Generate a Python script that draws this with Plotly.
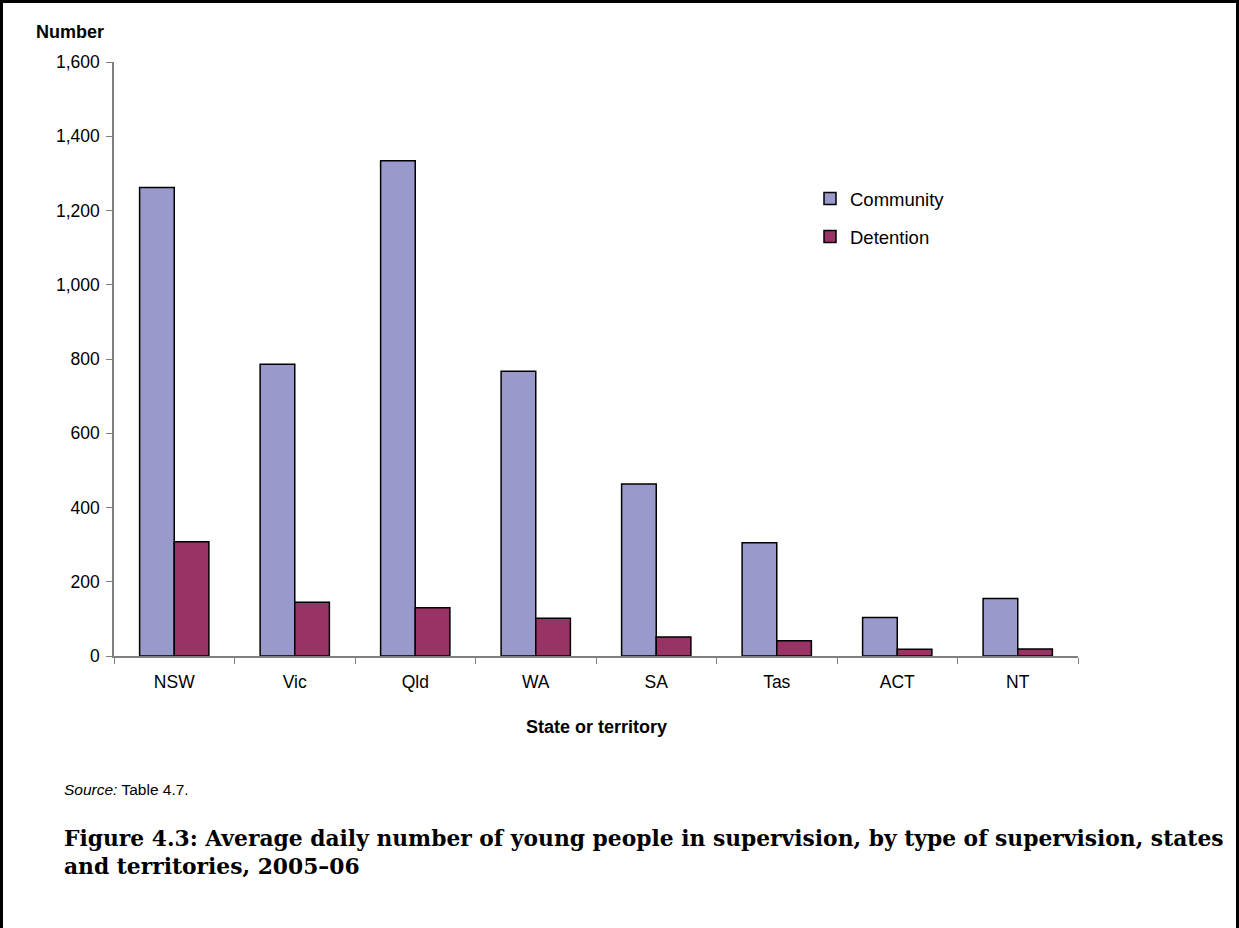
import plotly.graph_objects as go

# Average daily number of young people under supervision, 2005-06
states = ["NSW", "Vic", "Qld", "WA", "SA", "Tas", "ACT", "NT"]
community = [1262, 786, 1334, 767, 463, 305, 104, 155]
detention = [308, 145, 130, 102, 51, 41, 18, 19]

y_ticks = [0, 200, 400, 600, 800, 1000, 1200, 1400, 1600]

W, H = 1239, 928
L, R, T, B = 114, 1078, 62, 656  # plot area in pixels
pw, ph = R - L, B - T


def px(x):
    return (x - L) / pw


def py(y):
    return (B - y) / ph


sans = "Liberation Sans, Arial, sans-serif"
serif = "DejaVu Serif, Book Antiqua, serif"

fig = go.Figure()
fig.add_trace(go.Bar(
    x=states, y=community, name="Community",
    marker=dict(color="#9999CC", line=dict(color="#000000", width=1.5)),
    legendgroup="c",
))
fig.add_trace(go.Bar(
    x=states, y=detention, name="Detention",
    marker=dict(color="#993366", line=dict(color="#000000", width=1.5)),
    legendgroup="d",
))

fig.update_layout(
    width=W, height=H,
    margin=dict(l=L, r=W - R, t=T, b=H - B, pad=0),
    paper_bgcolor="white", plot_bgcolor="white",
    barmode="group", bargap=0.425, bargroupgap=0,
    font=dict(family=sans, size=17, color="black"),
    showlegend=True,
    legend=dict(
        x=px(810), y=py(180), xanchor="left", yanchor="top",
        font=dict(family=sans, size=18.5, color="black"),
        bgcolor="rgba(0,0,0,0)", tracegroupgap=11,
        itemclick=False, itemdoubleclick=False,
    ),
    xaxis=dict(
        showline=True, linecolor="#808080", linewidth=1.5,
        ticks="outside", tickson="boundaries", ticklen=6, tickcolor="#808080",
        tickfont=dict(family=sans, size=17.5), ticklabelstandoff=9,
        showgrid=False, zeroline=False, fixedrange=True,
    ),
    yaxis=dict(
        range=[0, 1600], tickvals=y_ticks, tickformat=",",
        showline=True, linecolor="#808080", linewidth=1.5,
        ticks="outside", ticklen=6, tickcolor="#808080",
        tickfont=dict(family=sans, size=17.5), ticklabelstandoff=3,
        showgrid=False, zeroline=False, fixedrange=True,
    ),
    shapes=[dict(
        type="rect", xref="paper", yref="paper",
        x0=px(1.5), x1=px(1237.5), y0=py(940), y1=py(1.5),
        line=dict(color="black", width=3), fillcolor="rgba(0,0,0,0)",
        layer="above",
    )],
    annotations=[
        dict(text="<b>Number</b>", xref="paper", yref="paper",
             x=px(34), y=py(32), xanchor="left", yanchor="middle",
             showarrow=False, font=dict(family=sans, size=18)),
        dict(text="<b>State or territory</b>", xref="paper", yref="paper",
             x=px(596), y=py(727), xanchor="center", yanchor="middle",
             showarrow=False, font=dict(family=sans, size=18)),
        dict(text="<i>Source:</i> Table 4.7.", xref="paper", yref="paper",
             x=px(62), y=py(789), xanchor="left", yanchor="middle",
             showarrow=False, font=dict(family=sans, size=15.5)),
        dict(text="<b>Figure 4.3: Average daily number of young people in supervision, "
                  "by type of supervision, states<br>and territories, 2005–06</b>",
             xref="paper", yref="paper",
             x=px(62), y=py(852), xanchor="left", yanchor="middle", align="left",
             showarrow=False, font=dict(family=serif, size=21.8)),
    ],
)

fig.write_html("out.html", config={"displayModeBar": False})
